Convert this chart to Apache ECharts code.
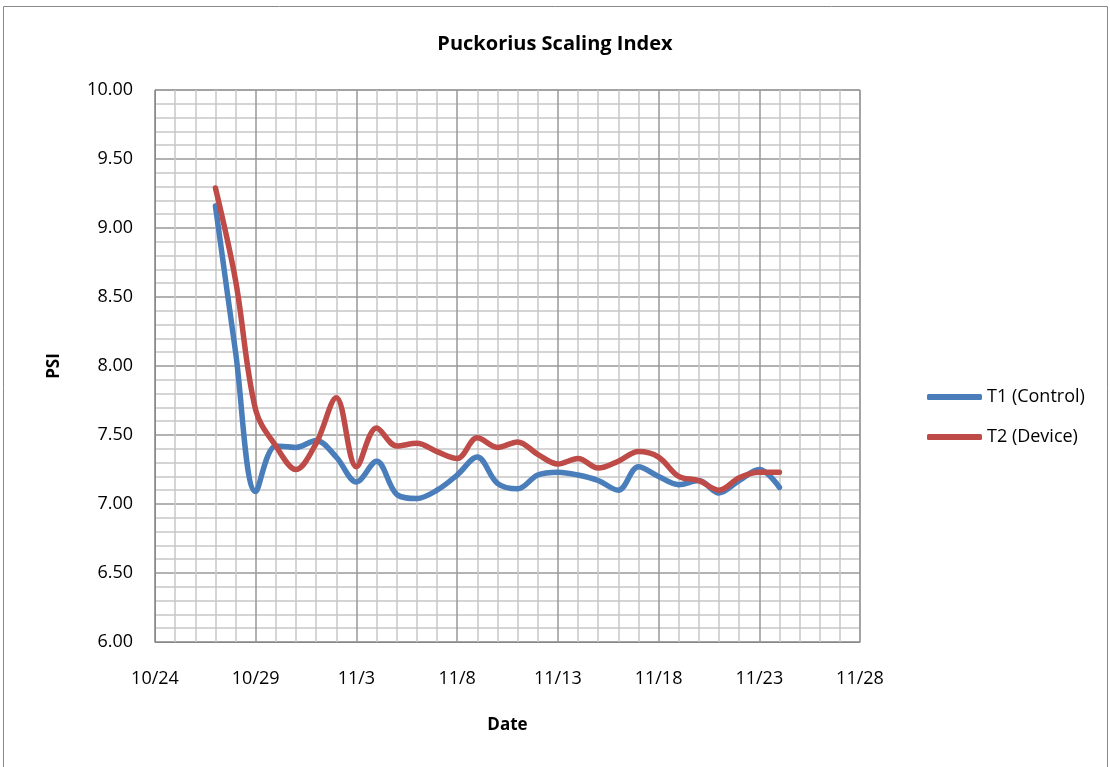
<!DOCTYPE html>
<html><head><meta charset="utf-8">
<script src="https://cdn.jsdelivr.net/npm/echarts@6/dist/echarts.min.js"></script>
<style>html,body{margin:0;padding:0;background:#fff}#c{width:1110px;height:767px}</style>
</head><body><div id="c"></div>
<script>
const dates = ['10/27','10/28','10/29','10/30','10/31','11/1','11/2','11/3','11/4','11/5','11/6','11/7','11/8','11/9','11/10','11/11','11/12','11/13','11/14','11/15','11/16','11/17','11/18','11/19','11/20','11/21','11/22','11/23','11/24'];
const t1Control = [9.16,8.10,7.09,7.42,7.41,7.46,7.34,7.16,7.31,7.07,7.04,7.10,7.21,7.34,7.15,7.11,7.21,7.23,7.21,7.17,7.10,7.27,7.20,7.14,7.17,7.08,7.17,7.25,7.12];
const t2Device = [9.29,8.62,7.68,7.42,7.25,7.44,7.77,7.27,7.55,7.42,7.44,7.38,7.33,7.48,7.41,7.45,7.36,7.29,7.33,7.26,7.31,7.38,7.34,7.20,7.17,7.10,7.19,7.23,7.23];
const xTickLabels = ['10/24','10/29','11/3','11/8','11/13','11/18','11/23','11/28'];
const yTickLabels = ['6.00','6.50','7.00','7.50','8.00','8.50','9.00','9.50','10.00'];

const YEAR = 2013;
function dayOffset(s){ const [m,d]=s.split('/').map(Number); return (Date.UTC(YEAR,m-1,d)-Date.UTC(YEAR,9,24))/86400000; }
const FONT = 'Open Sans';
const chart = echarts.init(document.getElementById('c'));
chart.setOption({
  animation:false,
  textStyle:{fontFamily:FONT},
  title:{text:'Puckorius Scaling Index',left:'center',top:29,textStyle:{fontFamily:FONT,fontSize:20,fontWeight:'bold',color:'#000'}},
  grid:{left:155,right:250,top:90,bottom:125,show:true,borderColor:'#888',borderWidth:1},
  legend:{orient:'vertical',left:922,top:383,itemGap:22,itemWidth:55,itemHeight:6,icon:'roundRect',
    textStyle:{fontFamily:FONT,fontSize:18,color:'#000'},data:['T1 (Control)','T2 (Device)']},
  xAxis:{type:'value',min:0,max:35,interval:5,
    name:'Date',nameLocation:'middle',nameGap:75,nameTextStyle:{fontFamily:FONT,fontSize:17,fontWeight:'bold',color:'#000'},
    axisLine:{show:true,lineStyle:{color:'#888'}},axisTick:{show:false},
    axisLabel:{margin:28,fontSize:18,color:'#000',formatter:(v)=>xTickLabels[Math.round(v/5)]},
    splitLine:{show:true,lineStyle:{color:'#999',width:1.5}},
    minorTick:{show:false,splitNumber:5},
    minorSplitLine:{show:true,lineStyle:{color:'#c8c8c8',width:1.5}}},
  yAxis:{type:'value',min:6,max:10,interval:0.5,
    name:'PSI',nameLocation:'middle',nameGap:92,nameRotate:90,nameTextStyle:{fontFamily:FONT,fontSize:17,fontWeight:'bold',color:'#000'},
    axisLine:{show:true,lineStyle:{color:'#888'}},axisTick:{show:false},
    axisLabel:{margin:22,fontSize:18,color:'#000',formatter:(v)=>yTickLabels[Math.round((v-6)/0.5)]},
    splitLine:{show:true,lineStyle:{color:'#999',width:1.5}},
    minorTick:{show:false,splitNumber:5},
    minorSplitLine:{show:true,lineStyle:{color:'#c8c8c8',width:1.5}}},
  graphic:[{type:'rect',shape:{x:3.5,y:6.5,width:1104,height:770},style:{fill:'none',stroke:'#888',lineWidth:1},silent:true}],
  series:[
    {name:'T1 (Control)',type:'line',smooth:0.35,showSymbol:false,symbol:'none',color:'#4a7ebb',
      lineStyle:{width:5.5,color:'#4a7ebb',cap:'round'},data:dates.map((d,i)=>[dayOffset(d),t1Control[i]])},
    {name:'T2 (Device)',type:'line',smooth:0.35,showSymbol:false,symbol:'none',color:'#be4b48',
      lineStyle:{width:5.5,color:'#be4b48',cap:'round'},data:dates.map((d,i)=>[dayOffset(d),t2Device[i]])}
  ]
});
</script></body></html>
